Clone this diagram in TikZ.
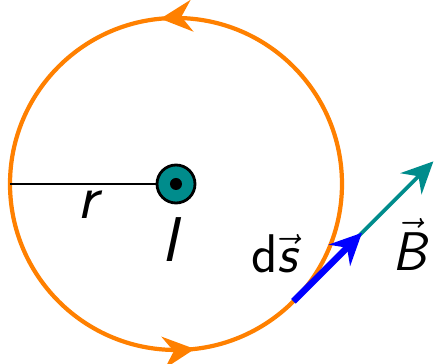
\documentclass[tikz,border=0pt]{standalone}
\usepackage{tikz}
\usetikzlibrary{arrows.meta, decorations.markings, calc}
\definecolor{myorange}{RGB}{255,128,0}
\definecolor{myteal}{RGB}{0,140,140}
\definecolor{myblue}{RGB}{0,0,255}
\tikzset{
  currentloop/.style={color=myorange, draw, line width=1.2pt,
    postaction={decorate}, decoration={markings,
      mark=at position 0.265 with {\arrow[myorange]{Stealth[length=9pt, width=9pt, inset=3pt]}},
      mark=at position 0.768 with {\arrow[myorange]{Stealth[length=9pt, width=9pt, inset=3pt]}}}},
  wire/.style={circle, draw=black, fill=myteal, minimum size=0.38cm,
    inner sep=0pt, line width=0.8pt},
  wiredot/.style={circle, fill=black, minimum size=0.12cm, inner sep=0pt},
  dsarrow/.style={-{Stealth[length=9pt, width=8.5pt, inset=3pt]}, color=myblue, line width=1.9pt},
  barrow/.style={-{Stealth[length=9pt, width=8.5pt, inset=3pt]}, color=myteal, line width=1.1pt},
  biglbl/.style={font=\sffamily\fontsize{18}{20}\selectfont},
  lbl/.style={font=\sffamily\fontsize{15.5}{18}\selectfont}
}

\begin{document}
\begin{tikzpicture}
  \useasboundingbox (0,0) rectangle (4.35,3.64);

  % Loop of current
  \coordinate (O) at (1.76,1.80);
  \draw[currentloop] (O) circle (1.66);

  % Radius
  \coordinate (edge) at ($(O)+(180:1.66)$);
  \node[wire] (wire) at (O) {};
  \node[wiredot] (dot) at (wire.center) {};
  \draw[line width=0.5pt] (edge) -- (wire.west);
  \node[biglbl] (rlbl) at (0.90,1.59) {\textit{r}};
  \node[biglbl] (Ilbl) at (1.72,1.24) {\textit{I}};

  % Line element and field
  \coordinate (P) at ($(O)+(-45:1.66)$);
  \coordinate (dsend) at ($(P)+(45:0.97)$);
  \coordinate (Bend) at ($(P)+(45:1.98)$);
  \draw[barrow] (P) -- (Bend);
  \draw[dsarrow] (P) -- (dsend);
  \node[lbl] (dslbl) at (2.74,1.10) {d$\vec{\textit{s}}$};
  \node[lbl] (Blbl) at (4.10,1.20) {$\vec{\textit{B}}$};
\end{tikzpicture}
\end{document}
